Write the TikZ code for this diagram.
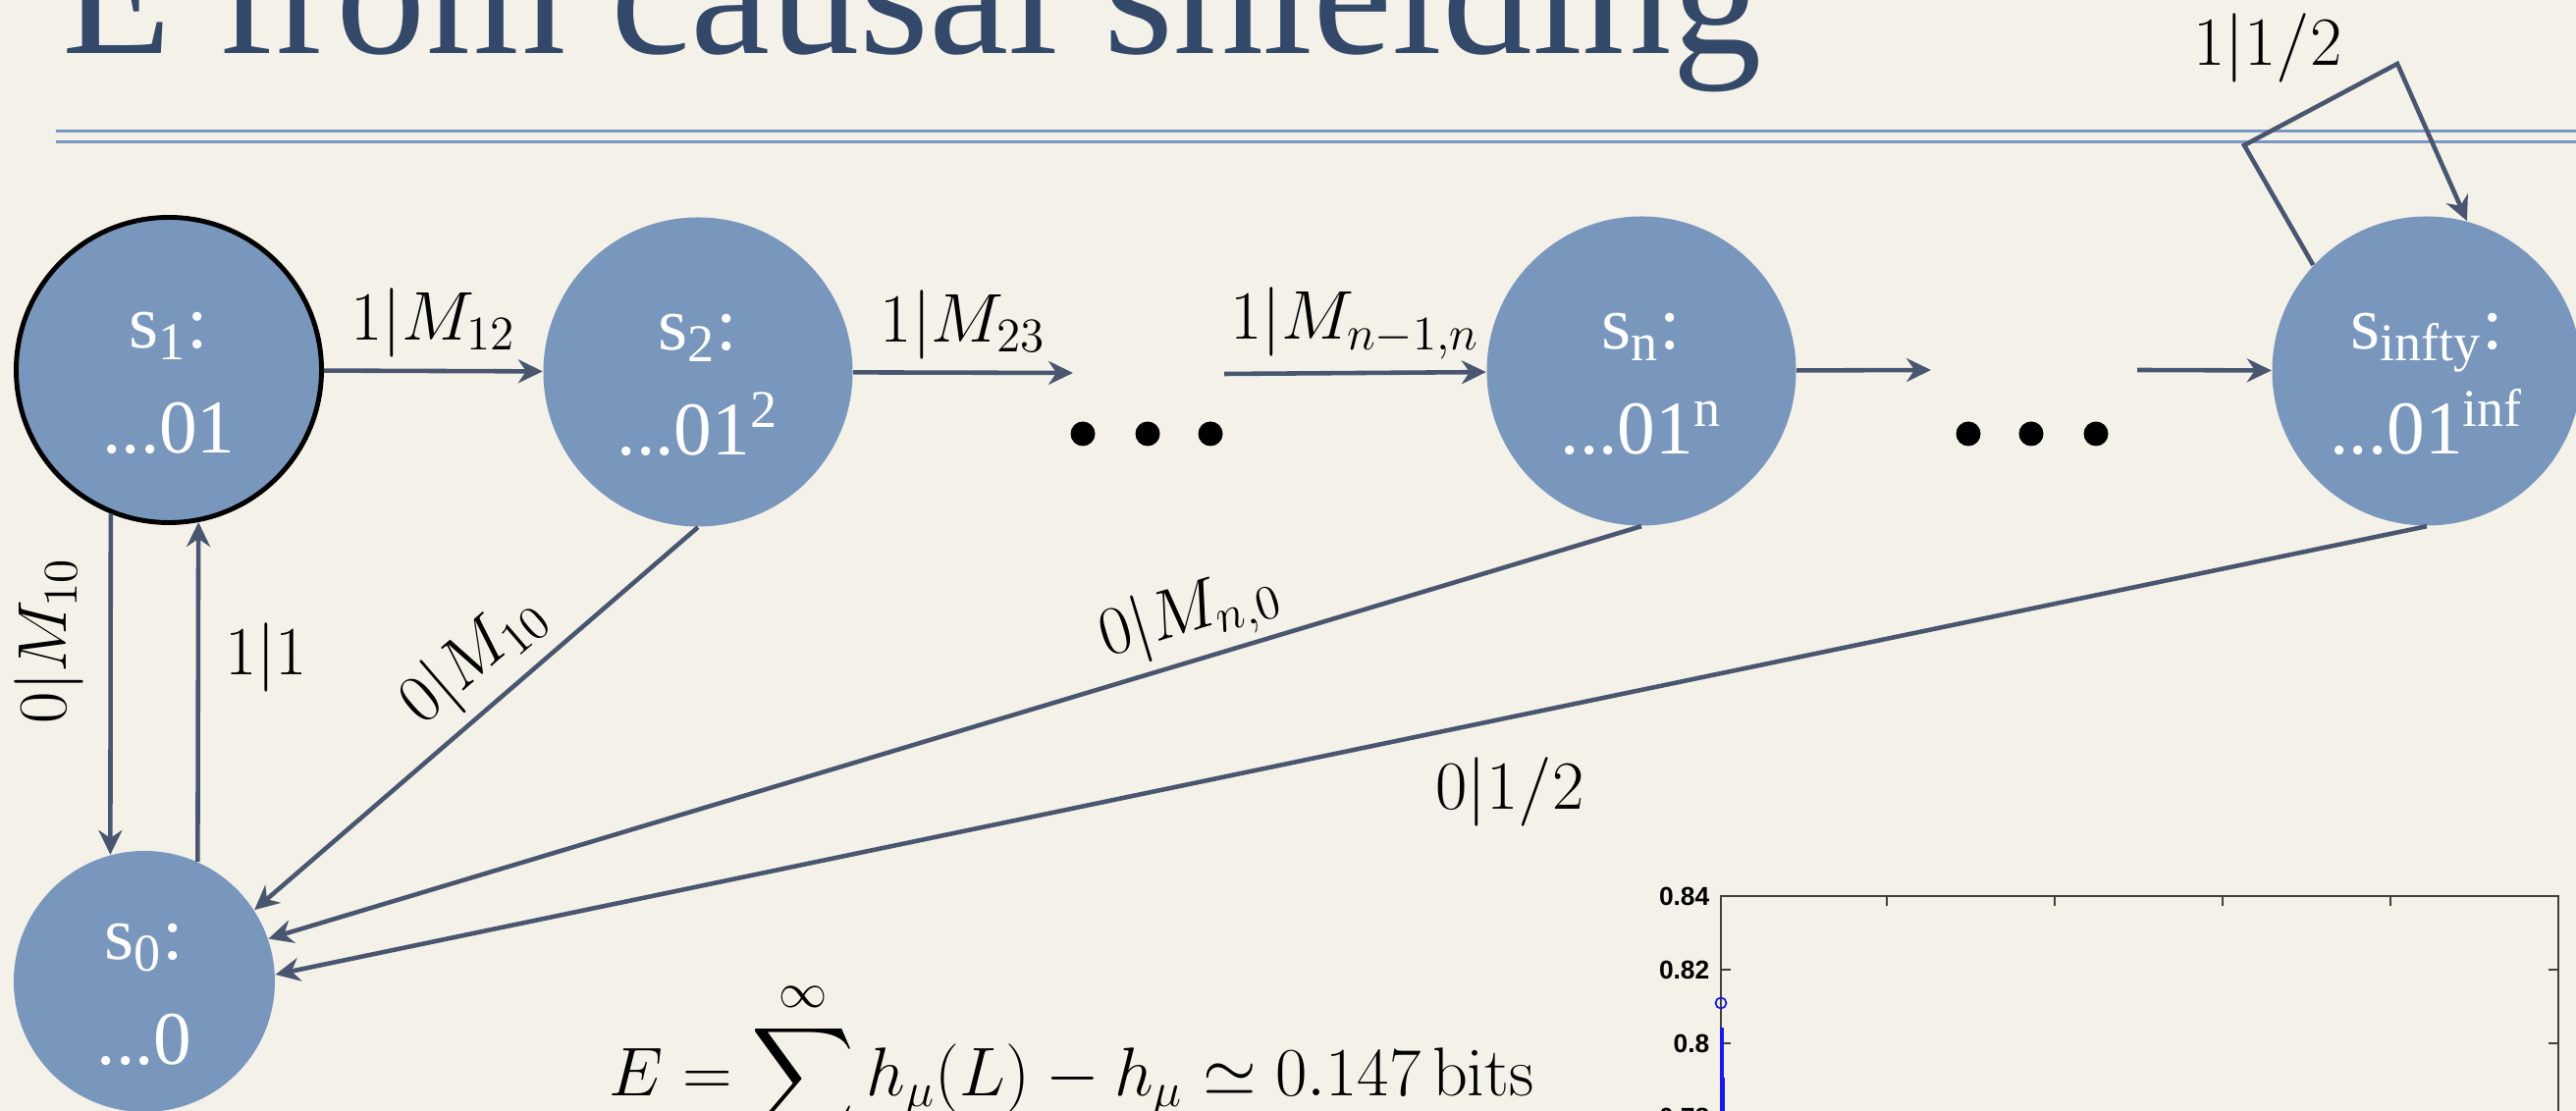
\RequirePackage{fix-cm}
\documentclass[tikz,border=0pt]{standalone}
\usepackage{amsmath}
\usepackage[no-math]{fontspec}
\setmainfont{Liberation Serif}
\newfontfamily\plotfont{Liberation Sans}
\usepackage{tikz}
\usetikzlibrary{arrows.meta, positioning}
\definecolor{paper}{RGB}{244,241,233}
\definecolor{statec}{RGB}{121,150,188}
\definecolor{edgec}{RGB}{73,86,112}
\definecolor{titlec}{RGB}{52,73,105}
\definecolor{rulec}{RGB}{124,151,194}
\definecolor{plotblue}{RGB}{25,25,235}
\newcommand{\stlabel}[2]{\rule{0pt}{0.63cm}#1\\#2}

\begin{document}
\begin{tikzpicture}[
    st/.style={circle, fill=statec, text=white, minimum size=3.15cm, inner sep=0pt,
      align=center, font=\fontsize{22}{30.4}\selectfont},
    lbl/.style={text=black, font=\fontsize{20}{24}\selectfont},
    trans/.style={-{Stealth[length=2.5mm, width=2.4mm]}, line width=1.3pt, edgec},
    dot/.style={circle, fill=black, minimum size=0.25cm, inner sep=0pt},
    plotaxis/.style={draw=black!75, line width=0.6pt},
    ticklbl/.style={font=\plotfont\bfseries\fontsize{7.5}{9}\selectfont, anchor=east,
      inner sep=0pt}]
  \useasboundingbox (0,0) rectangle (26.24,11.32);
  \clip (0,0) rectangle (26.24,11.32);
  \fill[paper] (0,0) rectangle (26.24,11.32);

  % slide title and rule
  \node[font=\fontsize{52}{60}\selectfont, text=titlec, anchor=base west, inner sep=0pt]
    (title) at (0.63,10.77) {E from causal shielding};
  \draw[rulec, line width=0.85pt] (0.57,9.98) -- (26.24,9.98);
  \draw[rulec, line width=0.85pt] (0.57,9.87) -- (26.24,9.87);

  % states
  \node[st, draw=black, line width=1.4pt, minimum size=3.11cm] (s1) at (1.72,7.55)
    {\stlabel{s\textsubscript{1}:}{...01}};
  \node[st] (s2) at (7.11,7.53) {\stlabel{s\textsubscript{2}:}{...01\textsuperscript{2}}};
  \node[st] (sn) at (16.72,7.54) {\stlabel{s\textsubscript{n}:}{...01\textsuperscript{n}}};
  \node[st] (sinf) at (24.72,7.54)
    {\stlabel{s\textsubscript{infty}:}{...01\textsuperscript{inf}}};
  \node[st, minimum size=2.66cm] (s0) at (1.47,1.32) {\stlabel{s\textsubscript{0}:}{...0}};

  \foreach \i/\x in {1/11.03, 2/11.69, 3/12.33}
    \node[dot] (da\i) at (\x,6.90) {};
  \foreach \i/\x in {1/20.05, 2/20.69, 3/21.35}
    \node[dot] (db\i) at (\x,6.90) {};
  \coordinate (ga) at (10.93,7.52);
  \coordinate (gb) at (12.47,7.51);
  \coordinate (gc) at (19.67,7.55);
  \coordinate (gd) at (21.77,7.55);
  \coordinate (loopa) at (22.86,9.84);
  \coordinate (loopb) at (24.42,10.67);

  % transitions
  \draw[trans] (s1) -- node[above, lbl] {$1|M_{12}$} (s2);
  \draw[trans] (s2) -- node[above, lbl] {$1|M_{23}$} (ga);
  \draw[trans] (gb) -- node[above, lbl] {$1|M_{n-1,n}$} (sn);
  \draw[trans] (sn) -- (gc);
  \draw[trans] (gd) -- (sinf);
  \draw[trans] (sinf.137) -- (loopa) -- (loopb) -- (sinf.75);
  \draw[trans] (s1.248) -- (s0.105);
  \draw[trans] (s0.66) -- (s1.281);
  \draw[trans] (s2.south) -- (s0.33);
  \draw[trans] (sn.south) -- (s0.19);
  \draw[trans] (sinf.south) -- (s0.3);

  \node[lbl, rotate=90] (l10a) at (0.50,4.79) {$0|M_{10}$};
  \node[lbl] (l11) at (2.71,4.62) {$1|1$};
  \node[lbl, rotate=40.8] (l10b) at (4.83,4.60) {$0|M_{10}$};
  \node[lbl, rotate=16.8] (ln0) at (12.12,5.05) {$0|M_{n,0}$};
  \node[lbl] (lhalf) at (15.38,3.25) {$0|1/2$};
  \node[lbl] (lloop) at (23.10,10.83) {$1|1/2$};

  % excess entropy
  \node[lbl, anchor=base west, inner sep=0pt] (eq) at (6.20,0.15)
    {$\displaystyle E=\sum^{\infty} h_\mu(L)-h_\mu\simeq 0.147\,\mathrm{bits}$};

  % plot corner
  \draw[plotaxis] (17.53,0) -- (17.53,2.19) -- (26.06,2.19) -- (26.06,0);
  \foreach \x in {19.22,20.93,22.64,24.35}
    \draw[plotaxis] (\x,2.19) -- (\x,2.09);
  \foreach \y in {1.44,0.69} {
    \draw[plotaxis] (17.53,\y) -- (17.63,\y);
    \draw[plotaxis] (26.06,\y) -- (25.96,\y);
  }
  \node[ticklbl] (t84) at (17.42,2.19) {0.84};
  \node[ticklbl] (t82) at (17.42,1.44) {0.82};
  \node[ticklbl] (t80) at (17.42,0.69) {0.8};
  \node[ticklbl] (t78) at (17.42,-0.06) {0.78};
  \draw[plotblue, line width=0.5pt] (17.53,1.10) circle (0.055);
  \draw[plotblue, line width=0.9pt] (17.54,0.85) -- (17.54,0);
  \draw[plotblue, line width=1.4pt] (17.55,0.34) -- (17.55,0);
\end{tikzpicture}
\end{document}
